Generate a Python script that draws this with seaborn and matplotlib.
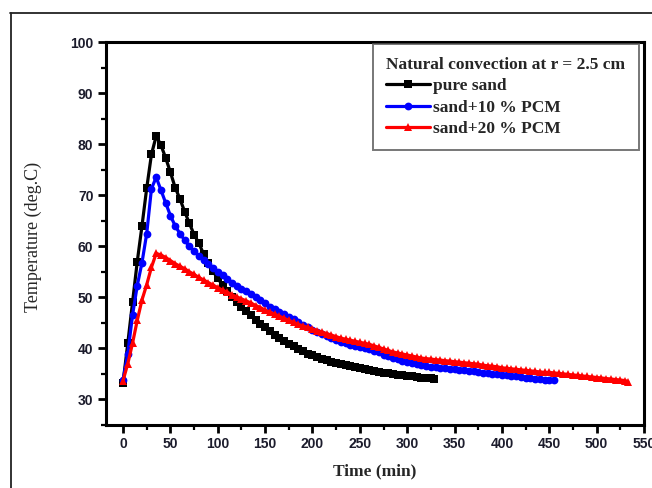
import numpy as np
import pandas as pd
import matplotlib
matplotlib.use("Agg")
import matplotlib.pyplot as plt
from matplotlib.lines import Line2D
from matplotlib.ticker import MultipleLocator
import seaborn as sns

# ---------------- data ----------------
time_pure = [0, 5, 10, 15, 20, 25, 30, 35, 40, 45, 50, 55, 60, 65, 70, 75, 80, 85, 90, 95,
             100, 105, 110, 115, 120, 125, 130, 135, 140, 145, 150, 155, 160, 165, 170, 175,
             180, 185, 190, 195, 200, 205, 210, 215, 220, 225, 230, 235, 240, 245, 250, 255,
             260, 265, 270, 275, 280, 285, 290, 295, 300, 305, 310, 315, 320, 325, 328]
temp_pure = [33.3, 41.0, 49.0, 57.0, 64.0, 71.4, 78.0, 81.6, 79.8, 77.3, 74.5, 71.5, 69.3,
             66.8, 64.5, 62.3, 60.6, 58.5, 56.7, 55.1, 53.7, 52.4, 51.2, 50.0, 49.0, 48.1,
             47.3, 46.5, 45.6, 44.8, 44.1, 43.4, 42.7, 42.0, 41.4, 40.9, 40.4, 39.9, 39.4,
             39.0, 38.7, 38.4, 38.0, 37.7, 37.4, 37.1, 36.9, 36.7, 36.5, 36.3, 36.1, 35.9,
             35.7, 35.5, 35.4, 35.2, 35.1, 35.0, 34.8, 34.7, 34.6, 34.5, 34.4, 34.3, 34.2,
             34.2, 34.1]

time_pcm10 = [0, 5, 10, 15, 20, 25, 30, 35, 40, 45, 50, 55, 60, 65, 70, 75, 80, 85, 90, 95,
              100, 105, 110, 115, 120, 125, 130, 135, 140, 145, 150, 155, 160, 165, 170, 175,
              180, 185, 190, 195, 200, 205, 210, 215, 220, 225, 230, 235, 240, 245, 250, 255,
              260, 265, 270, 275, 280, 285, 290, 295, 300, 305, 310, 315, 320, 325, 330, 335,
              340, 345, 350, 355, 360, 365, 370, 375, 380, 385, 390, 395, 400, 405, 410, 415,
              420, 425, 430, 435, 440, 445, 450, 455]
temp_pcm10 = [33.8, 39.0, 46.5, 52.3, 56.8, 62.5, 71.3, 73.5, 71.0, 68.5, 66.0, 64.0, 62.5,
              61.2, 60.0, 59.0, 58.1, 57.3, 56.5, 55.8, 55.0, 54.3, 53.6, 52.9, 52.3, 51.7,
              51.2, 50.6, 50.0, 49.4, 48.8, 48.2, 47.7, 47.2, 46.7, 46.2, 45.7, 45.2, 44.6,
              44.1, 43.6, 43.2, 42.8, 42.4, 42.0, 41.6, 41.3, 41.0, 40.7, 40.5, 40.3, 40.1,
              39.9, 39.5, 39.2, 38.8, 38.5, 38.2, 37.9, 37.6, 37.3, 37.1, 36.9, 36.7, 36.6,
              36.4, 36.3, 36.2, 36.1, 36.0, 35.9, 35.8, 35.7, 35.6, 35.5, 35.3, 35.2, 35.1,
              35.0, 34.9, 34.8, 34.7, 34.6, 34.5, 34.4, 34.3, 34.2, 34.1, 34.0, 33.9, 33.9,
              33.8]

time_pcm20 = [0, 5, 10, 15, 20, 25, 30, 35, 40, 45, 50, 55, 60, 65, 70, 75, 80, 85, 90, 95,
              100, 105, 110, 115, 120, 125, 130, 135, 140, 145, 150, 155, 160, 165, 170, 175,
              180, 185, 190, 195, 200, 205, 210, 215, 220, 225, 230, 235, 240, 245, 250, 255,
              260, 265, 270, 275, 280, 285, 290, 295, 300, 305, 310, 315, 320, 325, 330, 335,
              340, 345, 350, 355, 360, 365, 370, 375, 380, 385, 390, 395, 400, 405, 410, 415,
              420, 425, 430, 435, 440, 445, 450, 455, 460, 465, 470, 475, 480, 485, 490, 495,
              500, 505, 510, 515, 520, 525, 530, 533]
temp_pcm20 = [33.7, 37.0, 41.0, 45.5, 49.5, 52.5, 55.9, 58.6, 58.3, 57.8, 57.2, 56.6, 56.1,
              55.6, 55.0, 54.5, 53.9, 53.4, 52.9, 52.4, 51.9, 51.4, 51.0, 50.5, 50.1, 49.7,
              49.3, 48.9, 48.4, 48.0, 47.5, 47.1, 46.7, 46.3, 45.9, 45.5, 45.1, 44.7, 44.4,
              44.1, 43.8, 43.5, 43.2, 42.9, 42.6, 42.3, 42.0, 41.8, 41.6, 41.4, 41.2, 41.0,
              40.8, 40.5, 40.2, 39.9, 39.6, 39.3, 39.1, 38.9, 38.7, 38.5, 38.3, 38.1, 38.0,
              37.9, 37.8, 37.7, 37.6, 37.5, 37.4, 37.3, 37.2, 37.1, 37.0, 36.9, 36.7, 36.6,
              36.5, 36.4, 36.2, 36.1, 36.0, 35.9, 35.8, 35.7, 35.6, 35.5, 35.4, 35.3, 35.3,
              35.2, 35.1, 35.0, 34.9, 34.8, 34.7, 34.6, 34.5, 34.4, 34.3, 34.2, 34.1, 34.0,
              33.9, 33.8, 33.7, 33.5]

series_labels = ["pure sand", "sand+10 % PCM", "sand+20 % PCM"]
legend_title = "Natural convection at r = 2.5 cm"
x_ticks = [0, 50, 100, 150, 200, 250, 300, 350, 400, 450, 500, 550]
y_ticks = [30, 40, 50, 60, 70, 80, 90, 100]

# ---------------- figure ----------------
sns.set_style("ticks")
plt.rcParams["font.family"] = ["Liberation Serif", "DejaVu Serif"]

fig = plt.figure(figsize=(6.52, 4.88), dpi=100)
ax = fig.add_axes([106 / 652, 1 - 425 / 488, (644 - 106) / 652, (425 - 42) / 488])

df_pure = pd.DataFrame({"t": time_pure, "T": temp_pure})
df_10 = pd.DataFrame({"t": time_pcm10, "T": temp_pcm10})
df_20 = pd.DataFrame({"t": time_pcm20, "T": temp_pcm20})

sns.lineplot(data=df_pure, x="t", y="T", ax=ax, color="black", lw=2.3,
             marker="s", markersize=5.3, markeredgewidth=0, label=series_labels[0])
sns.lineplot(data=df_10, x="t", y="T", ax=ax, color="#0000ff", lw=2.3,
             marker="o", markersize=5.6, markeredgewidth=0, label=series_labels[1])
sns.lineplot(data=df_20, x="t", y="T", ax=ax, color="#ff0000", lw=2.3,
             marker="^", markersize=6.3, markeredgewidth=0, label=series_labels[2])

ax.set_xlim(-18, 550)
ax.set_ylim(25, 100)
ax.set_xticks(x_ticks)
ax.set_yticks(y_ticks)
ax.xaxis.set_minor_locator(MultipleLocator(25))
ax.yaxis.set_minor_locator(MultipleLocator(5))

for s in ax.spines.values():
    s.set_visible(True)
    s.set_linewidth(2.2)
    s.set_color("black")

ax.tick_params(axis="both", which="major", direction="out", length=6, width=2,
               color="black", labelsize=10, labelcolor="#1c1c2c", pad=3)
ax.tick_params(axis="both", which="minor", direction="out", length=3.5, width=1.6,
               color="black")
for lab in ax.get_xticklabels() + ax.get_yticklabels():
    lab.set_fontfamily(["Liberation Sans", "DejaVu Sans"])
    lab.set_fontweight("bold")

ax.set_xlabel("Time (min)", fontsize=12.5, fontweight="bold")
ax.set_ylabel("Temperature (deg.C)", fontsize=13)
ax.xaxis.set_label_coords(0.5, -0.10)
ax.yaxis.set_label_coords(-0.119, 0.491)

leg = ax.legend(title=legend_title, loc="upper right", bbox_to_anchor=(0.99, 0.995),
                borderaxespad=0, frameon=True, fancybox=False, handlelength=2.5,
                handletextpad=0.2, labelspacing=0.3, borderpad=0.75,
                prop={"family": ["Liberation Serif", "DejaVu Serif"], "weight": "bold", "size": 12.5},
                alignment="left")
leg.get_title().set_fontweight("bold")
leg.get_title().set_fontsize(12.5)
leg.get_frame().set_edgecolor("#555555")
leg.get_frame().set_linewidth(1.4)

# outer frame lines of the picture
fig.add_artist(Line2D([10 / 652, 1.0], [1 - 13 / 488, 1 - 13 / 488],
                      transform=fig.transFigure, color="#222222", lw=1.3))
fig.add_artist(Line2D([11 / 652, 11 / 652], [0.0, 1 - 13 / 488],
                      transform=fig.transFigure, color="#222222", lw=1.3))

fig.savefig("out.png", dpi=100, facecolor="white")
